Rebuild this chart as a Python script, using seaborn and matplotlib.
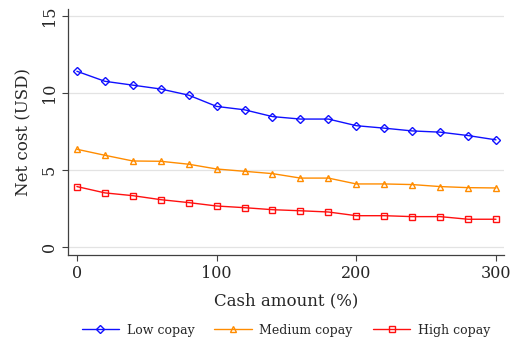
import numpy as np
import pandas as pd
import seaborn as sns
import matplotlib
matplotlib.use("Agg")
import matplotlib.pyplot as plt

# data
cash = [0, 20, 40, 60, 80, 100, 120, 140, 160, 180, 200, 220, 240, 260, 280, 300]
low_copay = [11.4, 10.75, 10.5, 10.25, 9.85, 9.12, 8.9, 8.46, 8.3, 8.3, 7.87, 7.71, 7.53, 7.45, 7.23, 6.95]
medium_copay = [6.34, 5.95, 5.58, 5.56, 5.37, 5.06, 4.91, 4.76, 4.47, 4.47, 4.09, 4.09, 4.05, 3.92, 3.85, 3.83]
high_copay = [3.92, 3.51, 3.33, 3.07, 2.88, 2.66, 2.55, 2.42, 2.35, 2.27, 2.03, 2.03, 1.97, 1.97, 1.8, 1.8]

series = [("Low copay", low_copay, "#1010ff", "D"),
          ("Medium copay", medium_copay, "#ff8c00", "^"),
          ("High copay", high_copay, "#ff1010", "s")]

sns.set_style("white")
plt.rcParams["font.family"] = ["DejaVu Serif"]

fig = plt.figure(figsize=(5.19, 3.4), dpi=100)
ax = fig.add_axes([0.131, 0.25, 0.84, 0.7235])

for name, vals, col, mk in series:
    df = pd.DataFrame({"cash": cash, "cost": vals})
    sns.lineplot(data=df, x="cash", y="cost", ax=ax, color=col, marker=mk,
                 markersize=5 if mk != "D" else 4.5, markerfacecolor="none",
                 markeredgecolor=col, markeredgewidth=1.0, linewidth=1.0,
                 label=name)

ax.set_xlim(-6.4, 305.7)
ax.set_ylim(-0.52, 15.44)
ax.set_xticks([0, 100, 200, 300])
ax.set_yticks([0, 5, 10, 15])
ax.yaxis.grid(True, color="#e3e3e3", linewidth=0.9)
ax.xaxis.grid(False)
ax.set_axisbelow(True)
for s in ["top", "right"]:
    ax.spines[s].set_visible(False)
for s in ["left", "bottom"]:
    ax.spines[s].set_color("#404040")
    ax.spines[s].set_linewidth(0.9)
ax.tick_params(axis="both", which="both", direction="out", length=4, width=0.8,
               color="#404040", labelsize=11.5, bottom=True, left=True)
for lab in ax.get_yticklabels():
    lab.set_rotation(90)
    lab.set_va("center")
ax.set_xlabel("Cash amount (%)", fontsize=12, labelpad=7)
ax.set_ylabel("Net cost (USD)", fontsize=12, labelpad=6)

ax.legend(loc="center", bbox_to_anchor=(0.5, -0.305), ncol=3, frameon=False,
          fontsize=9, handlelength=3.0, columnspacing=1.6, handletextpad=0.6)

fig.savefig("out.png", dpi=100)
